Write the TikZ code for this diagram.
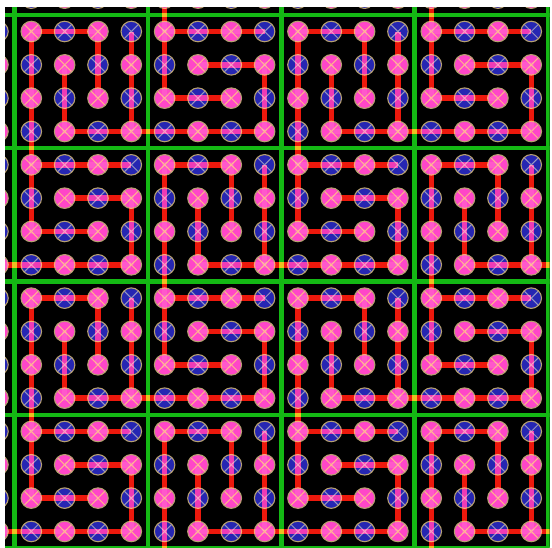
\documentclass[tikz,border=0pt]{standalone}
\usepackage{xcolor}
\usepackage{tikz}

\definecolor{sitepink}{RGB}{255,70,200}
\definecolor{siteblue}{RGB}{38,38,178}
\definecolor{siterim}{RGB}{182,160,112}
\definecolor{crosspink}{RGB}{255,178,140}
\definecolor{crossblue}{RGB}{150,150,192}
\definecolor{bondred}{RGB}{236,24,12}
\definecolor{cellgreen}{RGB}{20,185,20}

\begin{document}
\begin{tikzpicture}[x=1pt, y=-1pt,
    site/.style={circle, draw=siterim, line width=1.1pt, minimum size=20.5pt, inner sep=0pt},
    site0/.style={site, fill=sitepink, path picture={
        \draw[crosspink, line width=1pt] (path picture bounding box.north west) -- (path picture bounding box.south east)
            (path picture bounding box.north east) -- (path picture bounding box.south west);}},
    site1/.style={site, fill=siteblue, path picture={
        \draw[crossblue, line width=1pt] (path picture bounding box.north west) -- (path picture bounding box.south east)
            (path picture bounding box.north east) -- (path picture bounding box.south west);}},
    bond/.style={draw=bondred, line width=5.5pt},
    cell/.style={draw=cellgreen, line width=4.5pt}]

    % Canvas
    \useasboundingbox (0,0) rectangle (552,547);
    \fill[white] (0,0) rectangle (552,547);
    \fill[black] (5,7) rectangle (549.5,547);
    \clip (5,7) rectangle (549.5,547);

    % Block borders
    \foreach \k in {0,...,4} {
        \draw[cell] (14.6+133.33*\k,0) -- (14.6+133.33*\k,560);
        \draw[cell] (0,14.8+133.33*\k) -- (560,14.8+133.33*\k);
    }

    % Lattice sites (index 4 is the first full column / row)
    \foreach \i in {0,...,20} {
        \foreach \j in {0,...,20} {
            \pgfmathtruncatemacro\s{mod(\i+\j,2)}
            \node[site\s] (n\i-\j) at (31.3+33.33*\i-133.32, 31.5+33.33*\j-133.32) {};
        }
    }

    % Bonds, block by block
    \begin{scope}[blend mode=screen]
    \foreach \bi in {0,...,4} {
        \foreach \bj in {0,...,4} {
            \pgfmathtruncatemacro\xa{4*\bi}
            \pgfmathtruncatemacro\xb{4*\bi+1}
            \pgfmathtruncatemacro\xc{4*\bi+2}
            \pgfmathtruncatemacro\xd{4*\bi+3}
            \pgfmathtruncatemacro\xe{4*\bi+4}
            \pgfmathtruncatemacro\ya{4*\bj}
            \pgfmathtruncatemacro\yb{4*\bj+1}
            \pgfmathtruncatemacro\yc{4*\bj+2}
            \pgfmathtruncatemacro\yd{4*\bj+3}
            \pgfmathtruncatemacro\ye{4*\bj+4}
            \pgfmathtruncatemacro\t{mod(\bi+\bj,2)}
            \ifnum\t=0
                % Type A, linked down and right
                \draw[bond] (n\xa-\ye.center) -- (n\xa-\ya.center) -- (n\xc-\ya.center) -- (n\xc-\yc.center);
                \draw[bond] (n\xb-\yb.center) -- (n\xb-\yd.center) -- (n\xe-\yd.center);
                \draw[bond] (n\xd-\ya.center) -- (n\xd-\yd.center);
            \else
                % Type B
                \draw[bond] (n\xd-\ya.center) -- (n\xa-\ya.center) -- (n\xa-\yc.center) -- (n\xc-\yc.center);
                \draw[bond] (n\xb-\yb.center) -- (n\xd-\yb.center) -- (n\xd-\yd.center);
                \draw[bond] (n\xa-\yd.center) -- (n\xd-\yd.center);
            \fi
        }
    }
    \end{scope}
\end{tikzpicture}
\end{document}
